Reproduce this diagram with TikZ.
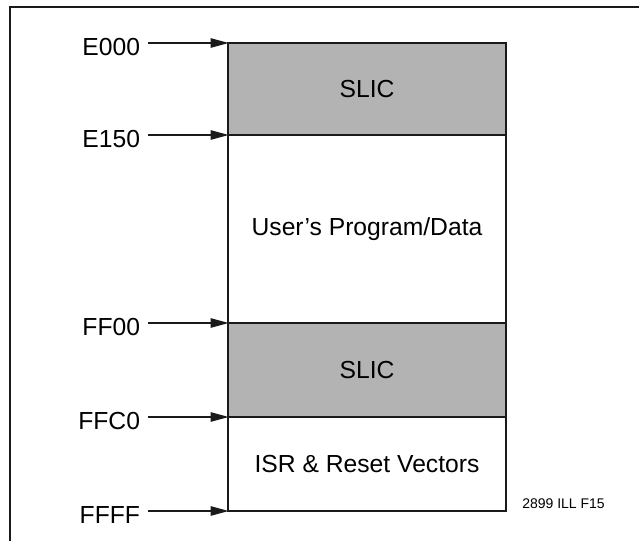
\documentclass[tikz,border=0pt]{standalone}
\usepackage{fontspec}
\setmainfont{Liberation Sans}
\usetikzlibrary{positioning,arrows.meta}

\definecolor{slicgray}{HTML}{B3B3B3}
\definecolor{inkgray}{HTML}{1A1A1A}

\tikzset{
  seg/.style={draw=inkgray, line width=1.1pt, inner sep=0pt, outer sep=0pt,
    minimum width=208.5pt, font=\fontsize{18.5}{22}\selectfont},
  addr/.style={anchor=base east, inner sep=0pt, outer sep=6pt,
    font=\fontsize{18.5}{22}\selectfont},
  ptr/.style={draw=inkgray, line width=1.1pt, -{Triangle[length=13.5pt, width=7pt]}, shorten >=-0.5pt}
}

\begin{document}
\begin{tikzpicture}[x=0.75pt,y=-0.75pt]
\useasboundingbox (0,0) rectangle (639,540);
% frame
\draw[line width=1.4pt, inkgray] (10,545) -- (10,7) -- (645,7);

% memory map
\node[seg, fill=slicgray, anchor=north west, minimum height=69pt] (slic1) at (228,43) {SLIC};
\node[seg, below=0pt of slic1, minimum height=141pt] (prog) {User’s Program/Data};
\node[seg, fill=slicgray, below=0pt of prog, minimum height=70.5pt] (slic2) {SLIC};
\node[seg, below=0pt of slic2, minimum height=70.5pt] (isr) {ISR \& Reset Vectors};

% addresses
\node[addr] (aE000) at (148,55) {E000};
\node[addr] (aE150) at (148,147) {E150};
\node[addr] (aFF00) at (148,335) {FF00};
\node[addr] (aFFC0) at (148,429) {FFC0};
\node[addr] (aFFFF) at (148,523) {FFFF};

\draw[ptr] (slic1.north west -| aE000.east) -- (slic1.north west);
\draw[ptr] (prog.north west -| aE150.east) -- (prog.north west);
\draw[ptr] (slic2.north west -| aFF00.east) -- (slic2.north west);
\draw[ptr] (isr.north west -| aFFC0.east) -- (isr.north west);
\draw[ptr] (isr.south west -| aFFFF.east) -- (isr.south west);

\node[anchor=west, inner sep=0pt, font=\fontsize{10.5}{12}\selectfont] (figno) at (522,504) {2899 ILL F15};
\end{tikzpicture}
\end{document}
